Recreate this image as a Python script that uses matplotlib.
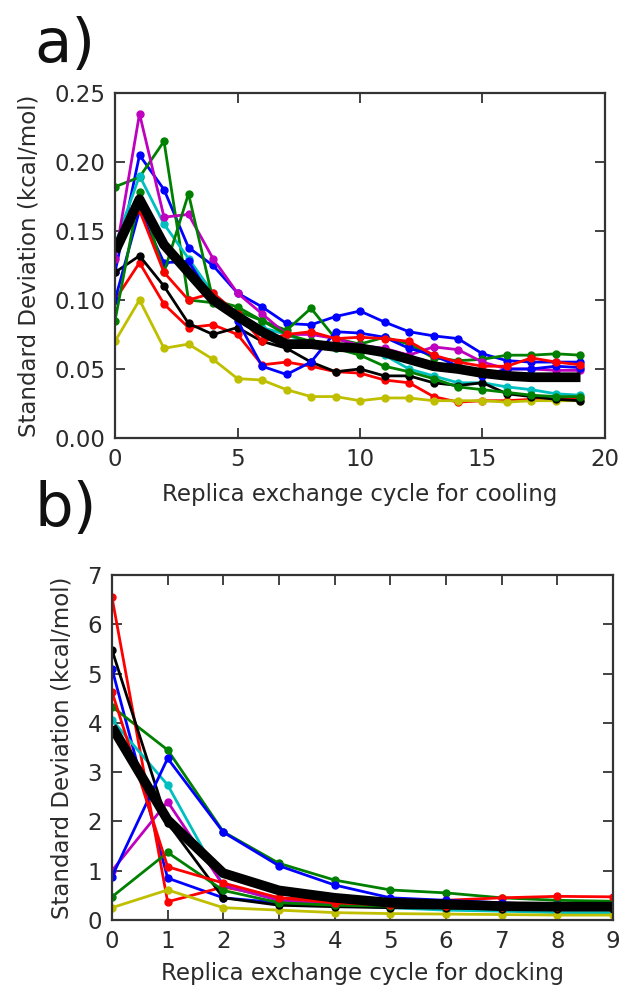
import matplotlib
matplotlib.use("Agg")
import matplotlib.pyplot as plt
import numpy as np

# ---------------- data: panel a (cooling) ----------------
cool_x = list(range(20))
cool_series = {
    "b1": [0.120, 0.205, 0.180, 0.138, 0.125, 0.105, 0.095, 0.083, 0.082, 0.088,
           0.092, 0.084, 0.077, 0.074, 0.072, 0.061, 0.056, 0.055, 0.055, 0.055],
    "g1": [0.182, 0.189, 0.215, 0.100, 0.098, 0.092, 0.085, 0.078, 0.094, 0.072,
           0.068, 0.073, 0.068, 0.058, 0.056, 0.057, 0.060, 0.060, 0.061, 0.060],
    "r1": [0.100, 0.127, 0.097, 0.080, 0.082, 0.075, 0.053, 0.055, 0.052, 0.048,
           0.047, 0.042, 0.040, 0.030, 0.026, 0.027, 0.027, 0.028, 0.028, 0.029],
    "c":  [0.140, 0.190, 0.155, 0.130, 0.105, 0.090, 0.080, 0.075, 0.068, 0.065,
           0.065, 0.060, 0.050, 0.045, 0.040, 0.040, 0.037, 0.035, 0.032, 0.031],
    "m":  [0.130, 0.235, 0.160, 0.162, 0.130, 0.105, 0.090, 0.075, 0.075, 0.072,
           0.067, 0.065, 0.060, 0.066, 0.064, 0.055, 0.050, 0.050, 0.049, 0.049],
    "y":  [0.070, 0.100, 0.065, 0.068, 0.057, 0.043, 0.042, 0.035, 0.030, 0.030,
           0.027, 0.029, 0.029, 0.027, 0.027, 0.027, 0.026, 0.027, 0.027, 0.027],
    "k":  [0.120, 0.132, 0.110, 0.083, 0.075, 0.080, 0.070, 0.065, 0.055, 0.048,
           0.050, 0.045, 0.045, 0.040, 0.038, 0.040, 0.032, 0.030, 0.028, 0.027],
    "b2": [0.100, 0.165, 0.127, 0.128, 0.100, 0.085, 0.052, 0.046, 0.055, 0.077,
           0.076, 0.073, 0.065, 0.060, 0.052, 0.045, 0.050, 0.050, 0.052, 0.051],
    "g2": [0.085, 0.178, 0.120, 0.177, 0.100, 0.095, 0.085, 0.075, 0.070, 0.065,
           0.060, 0.052, 0.048, 0.043, 0.037, 0.035, 0.033, 0.031, 0.030, 0.030],
    "r2": [0.140, 0.165, 0.120, 0.100, 0.105, 0.090, 0.070, 0.075, 0.077, 0.072,
           0.073, 0.072, 0.070, 0.060, 0.055, 0.052, 0.052, 0.058, 0.055, 0.053],
}
cool_mean = [0.135, 0.173, 0.140, 0.120, 0.100, 0.088, 0.077, 0.068, 0.068, 0.066,
             0.065, 0.062, 0.057, 0.052, 0.050, 0.047, 0.045, 0.044, 0.044, 0.044]

# ---------------- data: panel b (docking) ----------------
dock_x = list(range(10))
dock_series = {
    "b1": [5.10, 0.85, 0.45, 0.35, 0.30, 0.28, 0.27, 0.26, 0.26, 0.25],
    "g1": [4.33, 3.45, 1.79, 1.15, 0.81, 0.61, 0.55, 0.45, 0.40, 0.38],
    "r1": [6.55, 0.37, 0.67, 0.45, 0.40, 0.38, 0.40, 0.45, 0.48, 0.47],
    "c":  [4.06, 2.74, 0.70, 0.40, 0.30, 0.25, 0.20, 0.18, 0.15, 0.15],
    "m":  [1.00, 2.40, 0.70, 0.40, 0.32, 0.30, 0.28, 0.27, 0.26, 0.26],
    "y":  [0.25, 0.61, 0.25, 0.20, 0.15, 0.13, 0.12, 0.11, 0.10, 0.10],
    "k":  [5.48, 1.97, 0.45, 0.30, 0.27, 0.25, 0.24, 0.23, 0.22, 0.22],
    "b2": [0.88, 3.28, 1.78, 1.10, 0.71, 0.45, 0.40, 0.35, 0.30, 0.30],
    "g2": [0.47, 1.37, 0.60, 0.35, 0.30, 0.28, 0.28, 0.27, 0.27, 0.27],
    "r2": [4.63, 1.08, 0.75, 0.45, 0.35, 0.30, 0.28, 0.27, 0.26, 0.26],
}
dock_mean = [3.92, 2.03, 0.95, 0.60, 0.45, 0.35, 0.32, 0.28, 0.27, 0.27]

series_colors = {"b1": "#0000ff", "g1": "#008000", "r1": "#ff0000", "c": "#00bfbf",
                 "m": "#bf00bf", "y": "#bfbf00", "k": "#000000", "b2": "#0000ff",
                 "g2": "#008000", "r2": "#ff0000"}

text_color = "#2b2b2b"
plt.rcParams["font.family"] = ["DejaVu Sans"]

fig = plt.figure(figsize=(6.2, 9.9), dpi=100)
ax_a = fig.add_axes([0.1855, 0.5576, 0.7903, 0.3485])
ax_b = fig.add_axes([0.1806, 0.0707, 0.8081, 0.3485])

FS = 16.5


def style_axis(ax):
    for sp in ax.spines.values():
        sp.set_linewidth(1.6)
        sp.set_color("#333333")
    ax.tick_params(direction="in", top=True, right=True, length=7, width=1.3,
                   color="#333333", labelsize=FS, labelcolor=text_color, pad=7)


for key, vals in cool_series.items():
    ax_a.plot(cool_x, vals, "-o", color=series_colors[key], lw=2.0, ms=5, mec=series_colors[key])
ax_a.plot(cool_x, cool_mean, "-", color="black", lw=7, solid_capstyle="butt")
ax_a.set_xlim(0, 20)
ax_a.set_ylim(0, 0.25)
ax_a.set_xticks([0, 5, 10, 15, 20])
ax_a.set_yticks([0.00, 0.05, 0.10, 0.15, 0.20, 0.25])
ax_a.set_yticklabels(["0.00", "0.05", "0.10", "0.15", "0.20", "0.25"])
style_axis(ax_a)
ax_a.set_xlabel("Replica exchange cycle for cooling", fontsize=FS, color=text_color, labelpad=9)
ax_a.set_ylabel("Standard Deviation (kcal/mol)", fontsize=FS, color=text_color, labelpad=10)

for key, vals in dock_series.items():
    ax_b.plot(dock_x, vals, "-o", color=series_colors[key], lw=2.0, ms=5, mec=series_colors[key])
ax_b.plot(dock_x, dock_mean, "-", color="black", lw=7, solid_capstyle="butt")
ax_b.set_xlim(0, 9)
ax_b.set_ylim(0, 7)
ax_b.set_xticks(range(10))
ax_b.set_yticks(range(8))
style_axis(ax_b)
ax_b.set_xlabel("Replica exchange cycle for docking", fontsize=FS, color=text_color, labelpad=7)
ax_b.set_ylabel("Standard Deviation (kcal/mol)", fontsize=FS, color=text_color, labelpad=10)

fig.text(0.055, 0.937, "a)", fontsize=44, color="#111111", va="baseline")
fig.text(0.055, 0.469, "b)", fontsize=44, color="#111111", va="baseline")

fig.savefig("out.png", dpi=100)
